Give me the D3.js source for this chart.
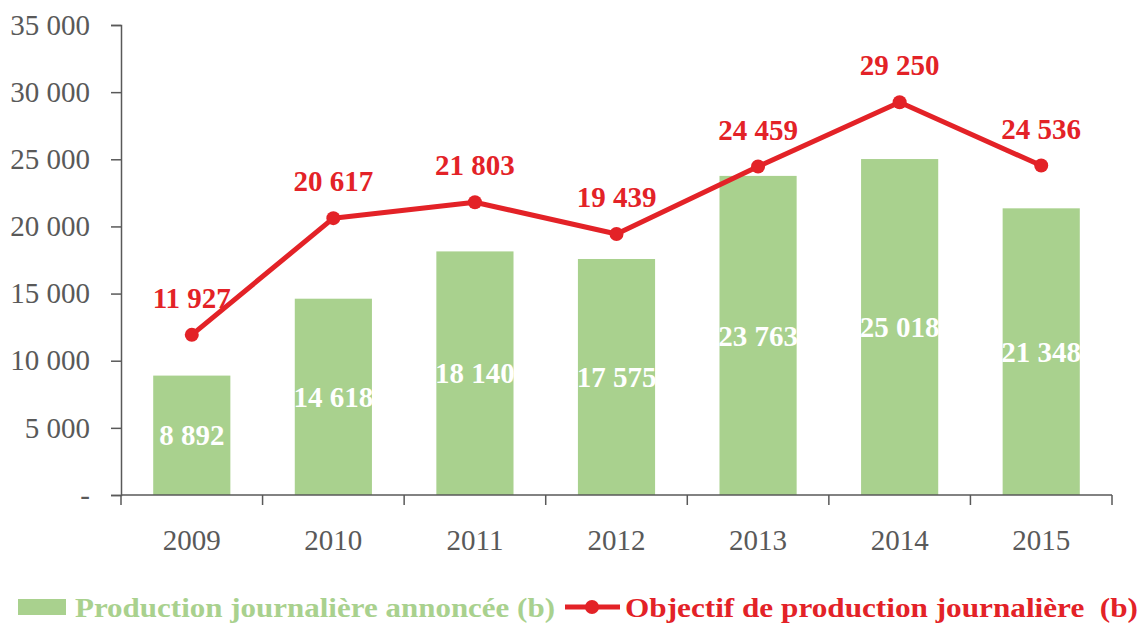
<!DOCTYPE html>
<html>
<head>
<meta charset="utf-8">
<script src="https://cdn.jsdelivr.net/npm/d3@7"></script>
<style>
  body { margin: 0; background: #fff; }
  svg text { font-family: "Palatino Linotype", "Book Antiqua", "Liberation Serif", serif; }
</style>
</head>
<body>
<svg id="chart" width="1143" height="623"></svg>
<script>
// Data
const years = ["2009", "2010", "2011", "2012", "2013", "2014", "2015"];
const production = [8892, 14618, 18140, 17575, 23763, 25018, 21348];
const objectif = [11927, 20617, 21803, 19439, 24459, 29250, 24536];
const yTicks = [0, 5000, 10000, 15000, 20000, 25000, 30000, 35000];

const green = "#a9d18e", red = "#e32227", grey = "#595959";
const fmt = n => n === 0 ? "-" : d3.format(",")(n).replace(/,/g, " ");

const margin = {top: 25, right: 31, bottom: 128, left: 121};
const W = 1143, H = 623;
const w = W - margin.left - margin.right, h = H - margin.top - margin.bottom;

const svg = d3.select("#chart");
const g = svg.append("g").attr("transform", "translate(" + margin.left + "," + margin.top + ")");

const x = d3.scaleBand().domain(years).range([0, w]).paddingInner(0.455).paddingOuter(0.2275);
const y = d3.scaleLinear().domain([0, 35000]).range([h, 0]);

// bars
g.selectAll("rect.bar").data(production).join("rect")
    .attr("class", "bar")
    .attr("x", (d, i) => x(years[i]))
    .attr("width", x.bandwidth())
    .attr("y", d => y(d))
    .attr("height", d => h - y(d))
    .attr("fill", green);

// y axis
const yAxis = g.append("g").call(d3.axisLeft(y).tickValues(yTicks).tickFormat(fmt).tickSize(10).tickPadding(21));
yAxis.select(".domain").attr("stroke", grey).attr("stroke-width", 1.5);
yAxis.selectAll(".tick line").attr("stroke", grey).attr("stroke-width", 1.5);
yAxis.selectAll(".tick text").attr("fill", grey).style("font-size", "29px");

// x axis with ticks at band edges
const xAxis = g.append("g").attr("transform", "translate(0," + h + ")");
xAxis.append("line").attr("x1", 0).attr("x2", w).attr("stroke", grey).attr("stroke-width", 1.5);
const edges = years.map(d => x(d) - x.step() * x.paddingInner() / 2).concat([w]);
edges[0] = 0;
xAxis.selectAll("line.tk").data(edges).join("line")
    .attr("class", "tk")
    .attr("x1", d => d).attr("x2", d => d)
    .attr("y1", 0).attr("y2", 10)
    .attr("stroke", grey).attr("stroke-width", 1.5);
xAxis.selectAll("text").data(years).join("text")
    .attr("x", d => x(d) + x.bandwidth() / 2)
    .attr("y", 45)
    .attr("dy", "0.35em")
    .attr("text-anchor", "middle")
    .attr("fill", grey)
    .style("font-size", "29px")
    .text(d => d);

// bar labels
g.selectAll("text.blab").data(production).join("text")
    .attr("class", "blab")
    .attr("x", (d, i) => x(years[i]) + x.bandwidth() / 2)
    .attr("y", d => (y(d) + h) / 2)
    .attr("dy", "0.35em")
    .attr("text-anchor", "middle")
    .attr("fill", "#fff")
    .style("font-size", "29px")
    .style("font-weight", "bold")
    .text(fmt);

// line
const cx = i => x(years[i]) + x.bandwidth() / 2;
const line = d3.line().x((d, i) => cx(i)).y(d => y(d));
g.append("path").datum(objectif)
    .attr("d", line)
    .attr("fill", "none")
    .attr("stroke", red)
    .attr("stroke-width", 5)
    .attr("stroke-linejoin", "round");
g.selectAll("circle.pt").data(objectif).join("circle")
    .attr("class", "pt")
    .attr("cx", (d, i) => cx(i))
    .attr("cy", d => y(d))
    .attr("r", 7)
    .attr("fill", red);
g.selectAll("text.llab").data(objectif).join("text")
    .attr("class", "llab")
    .attr("x", (d, i) => cx(i))
    .attr("y", d => y(d) - 37)
    .attr("dy", "0.35em")
    .attr("text-anchor", "middle")
    .attr("fill", red)
    .style("font-size", "29px")
    .style("font-weight", "bold")
    .text(fmt);

// legend
const lg = svg.append("g").attr("transform", "translate(0,607)");
lg.append("rect").attr("x", 18).attr("y", -8).attr("width", 48).attr("height", 16).attr("fill", green);
lg.append("text").attr("x", 75).attr("y", 0).attr("dy", "0.35em")
    .attr("fill", green).style("font-size", "28px").style("font-weight", "bold")
    .attr("textLength", 480).attr("lengthAdjust", "spacingAndGlyphs")
    .text("Production journalière annoncée (b)");
lg.append("line").attr("x1", 565).attr("x2", 620).attr("stroke", red).attr("stroke-width", 5);
lg.append("circle").attr("cx", 592).attr("cy", 0).attr("r", 7).attr("fill", red);
lg.append("text").attr("x", 625).attr("y", 0).attr("dy", "0.35em")
    .attr("fill", red).style("font-size", "28px").style("font-weight", "bold")
    .attr("textLength", 513).attr("lengthAdjust", "spacingAndGlyphs")
    .text("Objectif de production journalière\u00a0 (b)");
</script>
</body>
</html>
